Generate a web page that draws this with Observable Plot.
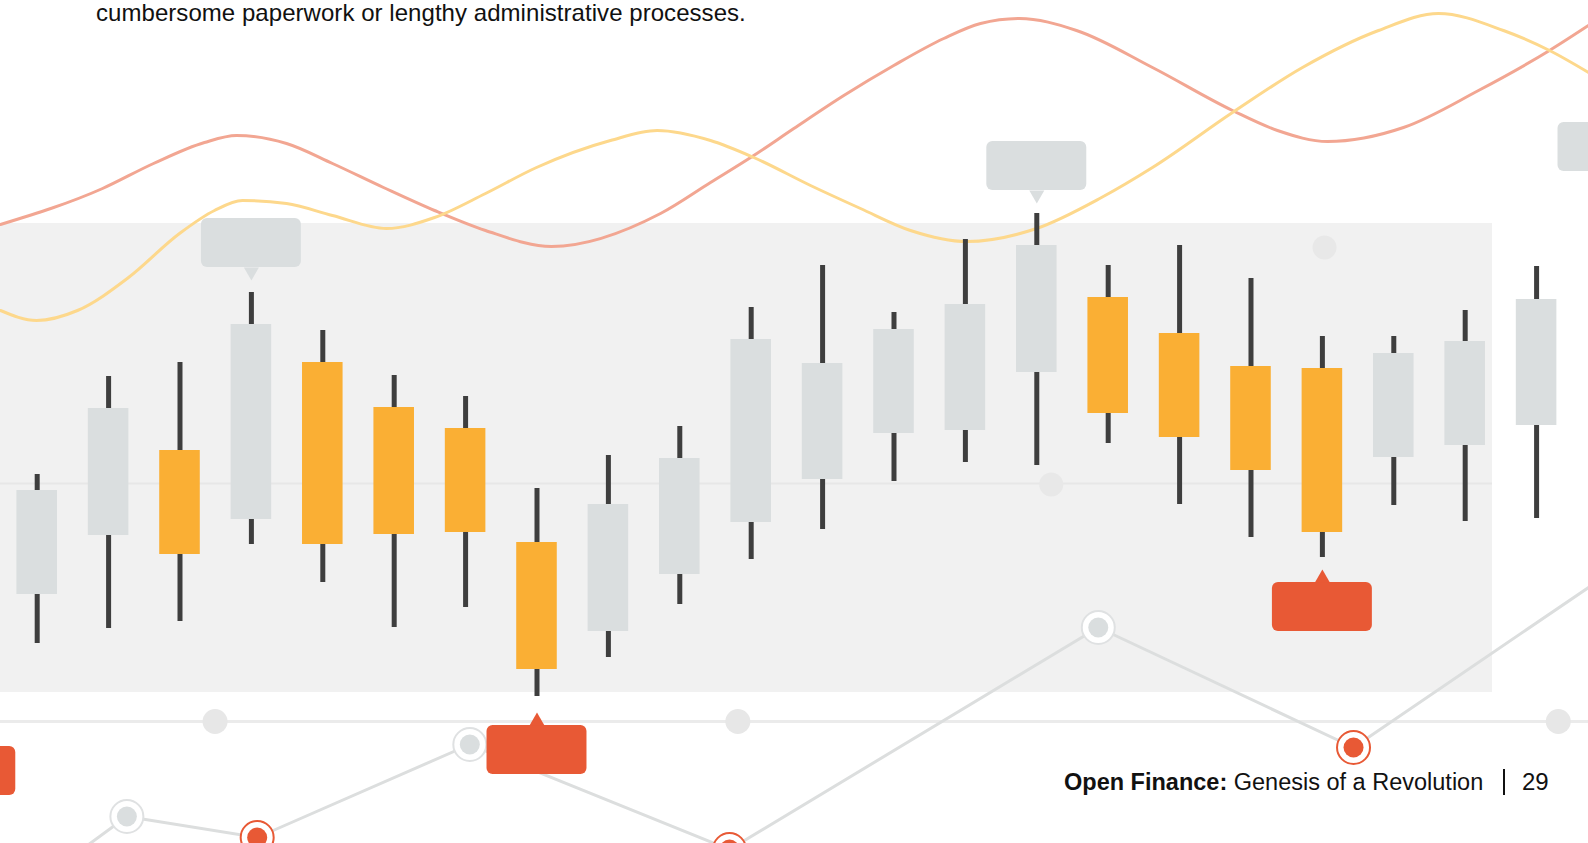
<!DOCTYPE html>
<html>
<head>
<meta charset="utf-8">
<script src="https://cdn.jsdelivr.net/npm/d3@7"></script>
<script src="https://cdn.jsdelivr.net/npm/@observablehq/plot@0.6"></script>
<style>
  html, body { margin: 0; padding: 0; background: #ffffff; }
  #page { position: relative; width: 1588px; height: 843px; overflow: hidden;
          font-family: "Liberation Sans", Arial, Helvetica, sans-serif; color: #111; }
  #chart { position: absolute; left: 0; top: 0; }
  #chart svg { display: block; }
  #lead { position: absolute; left: 96px; top: 1.4px; font-size: 24px; line-height: 24px;
          white-space: nowrap; letter-spacing: 0.05px; }
  #foot { position: absolute; left: 1064px; top: 770px; font-size: 23.5px; line-height: 24px; white-space: nowrap; }
  #foot b { font-weight: bold; }
  #sep { position: absolute; left: 1503px; top: 769px; width: 1.5px; height: 26px; background: #111; }
  #pageno { position: absolute; left: 1522px; top: 770px; font-size: 24px; line-height: 24px; }
</style>
</head>
<body>
<div id="page">
  <div id="chart"></div>
  <div id="lead">cumbersome paperwork or lengthy administrative processes.</div>
  <div id="foot"><b>Open Finance:</b> Genesis of a Revolution</div>
  <div id="sep"></div>
  <div id="pageno">29</div>
</div>
<script>
// ---- Candlestick data (session index, price) ----
const sessions = d3.range(1, 23);
const open  = [24.9, 30.8, 39.3, 32.4, 48.1, 43.6, 41.5, 30.1, 21.2, 26.9, 32.1, 36.4, 41.0, 41.3, 47.1, 54.6, 51.0, 47.7, 47.5, 38.6, 39.8, 41.8];
const high  = [36.9, 46.7, 48.1, 55.1, 51.3, 46.8, 44.7, 35.5, 38.8, 41.7, 53.6, 57.8, 53.1, 60.4, 63.0, 57.8, 59.8, 56.5, 50.7, 50.7, 53.3, 57.7];
const low   = [20.0, 21.5, 22.2, 29.9, 26.1, 21.6, 23.6, 14.7, 18.6, 23.9, 28.4, 31.4, 36.2, 38.1, 37.8, 40.0, 33.9, 30.6, 28.6, 33.8, 32.2, 32.5];
const close = [35.3, 43.5, 28.9, 51.9, 29.9, 30.9, 31.1, 17.4, 33.9, 38.5, 50.4, 48.0, 51.4, 53.9, 59.8, 43.0, 40.6, 37.3, 31.1, 49.0, 50.2, 54.4];

// ---- Smooth background series ----
const salmonSession = [0.486, 1.915, 2.629, 3.343, 3.791, 4.492, 5.136, 5.850, 6.565, 7.279, 8.203, 9.730, 10.430, 11.036, 11.597, 12.297, 12.997, 13.697, 14.212, 14.758, 15.556, 16.620, 17.741, 18.371, 19.071, 20.136, 21.186, 22.181, 22.727];
const salmonValue   = [61.9, 65.5, 68.0, 70.1, 70.8, 70.0, 68.0, 65.6, 63.3, 61.3, 59.7, 63.0, 66.1, 68.8, 71.5, 74.8, 77.8, 80.5, 82.0, 82.5, 81.3, 77.6, 73.3, 71.3, 70.2, 71.6, 75.3, 79.3, 81.8];
const yellowSession = [0.486, 0.990, 1.564, 2.279, 2.993, 3.483, 3.875, 4.492, 5.136, 5.892, 6.565, 7.279, 7.993, 9.029, 9.683, 10.430, 11.036, 11.831, 12.531, 13.231, 14.020, 14.996, 15.906, 16.620, 17.741, 18.721, 19.786, 20.626, 21.536, 22.181, 22.727];
const yellowValue   = [53.3, 52.3, 53.3, 56.6, 61.0, 63.3, 64.3, 64.0, 62.8, 61.5, 62.6, 65.0, 67.6, 70.3, 71.3, 70.3, 68.6, 65.8, 63.5, 61.3, 60.2, 61.5, 64.6, 67.6, 73.1, 77.6, 81.3, 83.0, 81.3, 79.3, 77.1];

// ---- Lower trend polyline ----
const trendSession = [0, 2.256, 4.081, 7.059, 10.696, 15.861, 19.436, 22.727];
const trendValue   = [-9.1, 2.7, 0.6, 9.9, -0.6, 21.6, 9.6, 25.6];
const trendMarker  = [null, "gray", "red", "gray", "red", "gray", "red", null];

// ---- Callouts (session, tip price, side) ----
const calloutSession = [0, 4, 8, 15, 19, 23];
const calloutTip     = [11.0, 56.3, 13.1, 64.0, 27.4, 65.9];
const calloutSide    = ["below", "above", "below", "above", "below", "above"];

// ---- Decorative guides ----
const panelSession = [0, 21.382];
const panelValue   = [15.1, 62.0];
const panelGuide   = 36.0;
const baselineValue = 12.2;
const baselineDots  = [3.491, 10.813, 22.304];
const faintDotSession = [15.202, 19.03];
const faintDotValue   = [35.9, 59.6];

// ---- Build tables ----
const candles = sessions.map((s, i) => ({s, open: open[i], high: high[i], low: low[i], close: close[i]}));
const salmon = salmonSession.map((s, i) => ({s, v: salmonValue[i]}));
const yellow = yellowSession.map((s, i) => ({s, v: yellowValue[i]}));
const trend = trendSession.map((s, i) => ({s, v: trendValue[i], m: trendMarker[i]}));
const markers = trend.filter(d => d.m);
const callouts = calloutSession.map((s, i) => ({s, tip: calloutTip[i], side: calloutSide[i]}));
const faint = faintDotSession.map((s, i) => ({s, v: faintDotValue[i]}));

const C = {
  panel: "#f1f1f1", guide: "#e7e7e7", faint: "#e8e8e8", base: "#ebebeb", baseDot: "#e7e7e7",
  salmon: "#f2a692", yellow: "#fdd88c", wick: "#3e3e3e", up: "#dadedf", down: "#faaf34",
  red: "#e85935", gray: "#dadedf", ring: "#dfe1e2", trend: "#dcdede"
};

const halfBody = 0.284;
const halfBox = 0.70;

const downTriangle = {
  draw(ctx, size) {
    const y = Math.sqrt(size / (Math.sqrt(3) * 3));
    ctx.moveTo(0, 2 * y);
    ctx.lineTo(-Math.sqrt(3) * y, -y);
    ctx.lineTo(Math.sqrt(3) * y, -y);
    ctx.closePath();
  }
};
const upTriangle = {
  draw(ctx, size) {
    const y = Math.sqrt(size / (Math.sqrt(3) * 3));
    ctx.moveTo(0, -2 * y);
    ctx.lineTo(-Math.sqrt(3) * y, y);
    ctx.lineTo(Math.sqrt(3) * y, y);
    ctx.closePath();
  }
};
const triR = Math.sqrt(97.4 / Math.PI);

const chart = Plot.plot({
  width: 1588,
  height: 843,
  margin: 0,
  x: {type: "linear", domain: [0.486, 22.727], axis: null},
  y: {type: "linear", domain: [0, 84.3], axis: null},
  style: {background: "transparent", overflow: "hidden"},
  marks: [
    Plot.rect([0], {x1: () => panelSession[0], x2: () => panelSession[1], y1: () => panelValue[0], y2: () => panelValue[1], fill: C.panel}),
    Plot.ruleY([panelGuide], {x1: () => panelSession[0], x2: () => panelSession[1], stroke: C.guide, strokeWidth: 2}),
    Plot.dot(faint, {x: "s", y: "v", r: 12, fill: C.faint}),
    Plot.ruleY([baselineValue], {stroke: C.base, strokeWidth: 3}),
    Plot.dot(baselineDots, {x: d => d, y: () => baselineValue, r: 12.5, fill: C.baseDot}),
    Plot.line(salmon, {x: "s", y: "v", curve: "monotone-x", stroke: C.salmon, strokeWidth: 3}),
    Plot.line(yellow, {x: "s", y: "v", curve: "monotone-x", stroke: C.yellow, strokeWidth: 3}),
    Plot.ruleX(candles, {x: "s", y1: "low", y2: "high", stroke: C.wick, strokeWidth: 5}),
    Plot.rect(candles, {x1: d => d.s - halfBody, x2: d => d.s + halfBody, y1: "open", y2: "close",
      fill: d => d.close > d.open ? C.up : C.down}),
    Plot.line(trend, {x: "s", y: "v", stroke: C.trend, strokeWidth: 3, clip: true}),
    Plot.dot(markers, {x: "s", y: "v", r: 16.5, fill: "white", stroke: d => d.m === "red" ? C.red : C.ring, strokeWidth: 2}),
    Plot.dot(markers, {x: "s", y: "v", r: 10, fill: d => d.m === "red" ? C.red : C.gray}),
    Plot.rect(callouts, {
      x1: d => d.s - halfBox, x2: d => d.s + halfBox,
      y1: d => d.side === "above" ? d.tip + 1.3 : d.tip - 1.3,
      y2: d => d.side === "above" ? d.tip + 6.2 : d.tip - 6.2,
      rx: 6, fill: d => d.side === "above" ? C.gray : C.red
    }),
    Plot.dot(callouts.filter(d => d.side === "above"), {x: "s", y: "tip", dy: -8.7, r: triR, symbol: downTriangle, fill: C.gray, stroke: null}),
    Plot.dot(callouts.filter(d => d.side === "below"), {x: "s", y: "tip", dy: 8.7, r: triR, symbol: upTriangle, fill: C.red, stroke: null})
  ]
});
document.getElementById("chart").appendChild(chart);
</script>
</body>
</html>
